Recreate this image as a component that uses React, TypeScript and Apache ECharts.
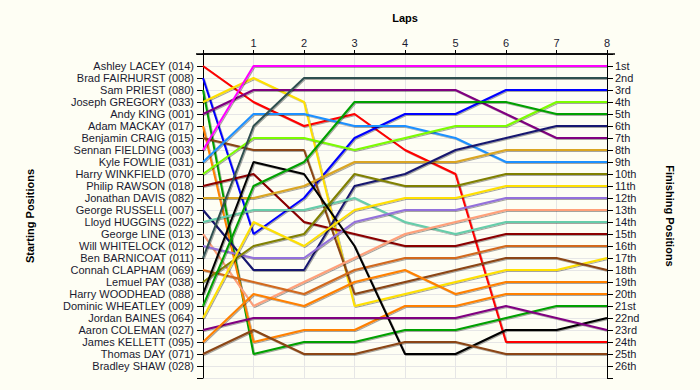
import React, { useEffect, useRef } from "react";
import * as echarts from "echarts";

const laps = [0, 1, 2, 3, 4, 5, 6, 7, 8];

const startingLabels = [
  "Ashley LACEY (014)",
  "Brad FAIRHURST (008)",
  "Sam PRIEST (080)",
  "Joseph GREGORY (033)",
  "Andy KING (001)",
  "Adam MACKAY (017)",
  "Benjamin CRAIG (015)",
  "Sennan FIELDING (003)",
  "Kyle FOWLIE (031)",
  "Harry WINKFIELD (070)",
  "Philip RAWSON (018)",
  "Jonathan DAVIS (082)",
  "George RUSSELL (007)",
  "Lloyd HUGGINS (022)",
  "George LINE (013)",
  "Will WHITELOCK (012)",
  "Ben BARNICOAT (011)",
  "Connah CLAPHAM (069)",
  "Lemuel PAY (038)",
  "Harry WOODHEAD (088)",
  "Dominic WHEATLEY (009)",
  "Jordan BAINES (064)",
  "Aaron COLEMAN (027)",
  "James KELLETT (095)",
  "Thomas DAY (071)",
  "Bradley SHAW (028)",
];

const finishLabels = [
  "1st", "2nd", "3rd", "4th", "5th", "6th", "7th", "8th", "9th", "10th",
  "11th", "12th", "13th", "14th", "15th", "16th", "17th", "18th", "19th", "20th",
  "21st", "22nd", "23rd", "24th", "25th", "26th",
];

const driverColors = [
  "#FF0000", "#0000FF", "#00A000", "#FFE000", "#800080",
  "#FF8000", "#8B4513", "#FF00FF", "#1E90FF", "#7CFC00",
  "#8B0000", "#DAA520", "#191970", "#66CDAA", "#FFA07A",
  "#9370DB", "#2F4F4F", "#D2691E", "#808000", "#000000",
  "#00A000", "#FFE000", "#800080", "#FF8000", "#8B4513",
];

// positions at laps 0..8 for each starter (Bradley SHAW has no data)
const positions: number[][] = [
  [1, 4, 6, 5, 8, 10, 24, 24, 24],
  [2, 15, 12, 7, 5, 5, 3, 3, 3],
  [3, 25, 24, 24, 23, 23, 22, 21, 21],
  [4, 2, 4, 21, 20, 19, 18, 18, 17],
  [5, 3, 3, 3, 3, 3, 5, 7, 7],
  [6, 24, 23, 23, 21, 21, 20, 20, 20],
  [7, 8, 8, 20, 19, 18, 17, 17, 18],
  [8, 1, 1, 1, 1, 1, 1, 1, 1],
  [9, 5, 5, 6, 6, 7, 9, 9, 9],
  [10, 7, 7, 8, 7, 6, 6, 4, 4],
  [11, 10, 14, 15, 16, 16, 15, 15, 15],
  [12, 12, 11, 9, 9, 9, 8, 8, 8],
  [13, 18, 18, 11, 10, 8, 7, 6, 6],
  [14, 13, 13, 12, 14, 15, 14, 14, 14],
  [15, 21, 19, 17, 15, 14, 13, 13, 13],
  [16, 17, 17, 14, 13, 13, 12, 12, 12],
  [17, 6, 2, 2, 2, 2, 2, 2, 2],
  [18, 19, 20, 18, 17, 17, 16, 16, 16],
  [19, 16, 15, 10, 11, 11, 10, 10, 10],
  [20, 9, 10, 16, 25, 25, 23, 23, 22],
  [21, 11, 9, 4, 4, 4, 4, 5, 5],
  [22, 14, 16, 13, 12, 12, 11, 11, 11],
  [23, 22, 22, 22, 22, 22, 21, 22, 23],
  [24, 20, 21, 19, 18, 20, 19, 19, 19],
  [25, 23, 25, 25, 24, 24, 25, 25, 25],
];

const FONT = "'Liberation Sans', Arial, sans-serif";
const TEXT = "#1a1a30";
const BG = "#FEFEF4";

export default function App() {
  const ref = useRef<HTMLDivElement>(null);

  useEffect(() => {
    if (!ref.current) return;
    const chart = echarts.init(ref.current, undefined, { renderer: "svg" });

    const series = positions.map((pos, i) => ({
      type: "line",
      name: startingLabels[i],
      yAxisIndex: 0,
      symbol: "none",
      silent: true,
      data: laps.map((lap, j) => [lap, pos[j]]),
      lineStyle: {
        color: driverColors[i],
        width: 2,
        shadowColor: "rgba(0,0,0,0.35)",
        shadowBlur: 1,
        shadowOffsetX: 1,
        shadowOffsetY: 1,
      },
      z: 2 + i * 0.01,
    }));

    const yCommon = {
      type: "value",
      min: 0,
      max: 27,
      interval: 1,
      inverse: true,
      nameLocation: "middle",
      nameTextStyle: { fontFamily: FONT, fontWeight: "bold", fontSize: 11, color: "#000" },
      axisLine: { show: true, lineStyle: { color: "#000", width: 1 } },
      axisTick: { show: true, length: 6, lineStyle: { color: "#000" } },
    };

    chart.setOption({
      animation: false,
      backgroundColor: BG,
      grid: { left: 203, right: 93, top: 54, bottom: 12, containLabel: false },
      xAxis: {
        type: "value",
        position: "top",
        min: 0,
        max: 8,
        interval: 1,
        name: "Laps",
        nameLocation: "middle",
        nameGap: 31,
        nameTextStyle: { fontFamily: FONT, fontWeight: "bold", fontSize: 11, color: "#000" },
        axisLine: { show: true, lineStyle: { color: "#000", width: 1.5 } },
        axisTick: { show: true, length: 4, lineStyle: { color: "#000" } },
        axisLabel: {
          fontFamily: FONT,
          fontSize: 11,
          color: TEXT,
          margin: 6,
          formatter: (v: number) => (v === 0 ? "" : String(v)),
        },
        splitLine: { show: true, lineStyle: { color: "#E6E6E6", width: 1 } },
      },
      yAxis: [
        {
          ...yCommon,
          position: "left",
          name: "Starting Positions",
          nameRotate: 90,
          nameGap: 168,
          axisLabel: {
            fontFamily: FONT,
            fontSize: 11,
            color: TEXT,
            margin: 9,
            formatter: (v: number) => (v >= 1 && v <= 26 ? startingLabels[v - 1] : ""),
          },
          splitLine: { show: true, lineStyle: { color: "#E6E6E6", width: 1 } },
        },
        {
          ...yCommon,
          position: "right",
          name: "Finishing Positions",
          nameRotate: -90,
          nameGap: 57,
          axisLabel: {
            fontFamily: FONT,
            fontSize: 11,
            color: TEXT,
            margin: 8,
            formatter: (v: number) => (v >= 1 && v <= 26 ? finishLabels[v - 1] : ""),
          },
          splitLine: { show: false },
        },
      ],
      graphic: [
        {
          type: "line",
          shape: { x1: 196, y1: 54, x2: 615, y2: 54 },
          style: { stroke: "#000", lineWidth: 1.5 },
          z: 10,
        },
      ],
      series,
    });

    return () => chart.dispose();
  }, []);

  return (
    <div
      ref={ref}
      style={{ position: "absolute", left: 0, top: 0, width: 700, height: 390, background: BG }}
    />
  );
}
